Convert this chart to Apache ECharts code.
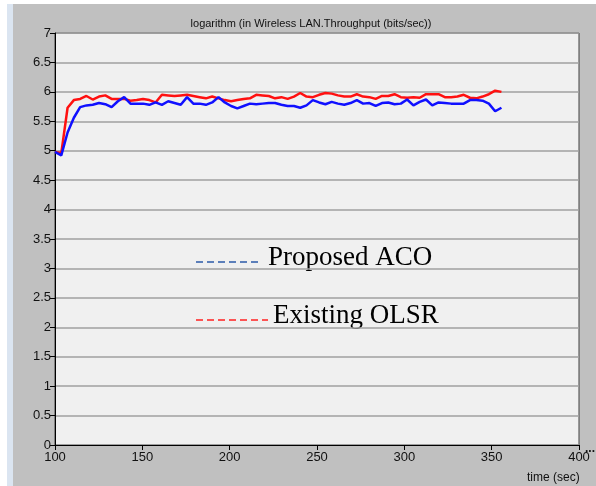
<!DOCTYPE html>
<html><head><meta charset="utf-8">
<script src="https://cdn.jsdelivr.net/npm/echarts@6/dist/echarts.min.js"></script>
<style>
html,body{margin:0;padding:0;background:#fff;}
#wrap{position:absolute;left:0;top:0;width:596px;height:486px;background:#fff;}
#strip{position:absolute;left:7px;top:4px;width:6px;height:482px;background:#dbe5f1;}
#chart{position:absolute;left:13px;top:4px;width:583px;height:482px;background:#c0c0c0;}
</style></head>
<body>
<div id="wrap"><div id="strip"></div><div id="chart"></div></div>
<script>
const times = [100,103.6,107.2,110.8,114.4,118,121.6,125.2,128.8,132.4,136,139.6,143.2,146.8,150.4,154,157.6,161.2,164.8,168.4,172,175.6,179.2,182.8,186.4,190,193.6,197.2,200.8,204.4,208,211.6,215.2,218.8,222.4,226,229.6,233.2,236.8,240.4,244,247.6,251.2,254.8,258.4,262,265.6,269.2,272.8,276.4,280,283.6,287.2,290.8,294.4,298,301.6,305.2,308.8,312.4,316,319.6,323.2,326.8,330.4,334,337.6,341.2,344.8,348.4,352,355.6];
const proposedACO = [4.98,4.92,5.31,5.56,5.74,5.77,5.78,5.81,5.79,5.74,5.84,5.91,5.80,5.80,5.80,5.78,5.82,5.78,5.84,5.81,5.78,5.91,5.80,5.80,5.78,5.82,5.91,5.82,5.76,5.72,5.76,5.80,5.79,5.80,5.81,5.81,5.78,5.76,5.76,5.73,5.77,5.86,5.82,5.79,5.83,5.80,5.78,5.81,5.86,5.80,5.81,5.76,5.81,5.82,5.79,5.80,5.87,5.77,5.83,5.87,5.77,5.82,5.81,5.80,5.80,5.80,5.86,5.86,5.85,5.80,5.67,5.73];
const existingOLSR = [4.98,4.96,5.73,5.86,5.88,5.93,5.87,5.92,5.94,5.88,5.88,5.88,5.85,5.86,5.88,5.86,5.82,5.95,5.94,5.93,5.94,5.95,5.93,5.91,5.89,5.92,5.89,5.86,5.84,5.86,5.88,5.89,5.95,5.94,5.93,5.89,5.91,5.88,5.92,5.98,5.92,5.91,5.95,5.98,5.97,5.94,5.92,5.92,5.96,5.92,5.91,5.88,5.93,5.93,5.96,5.91,5.90,5.91,5.90,5.96,5.96,5.96,5.91,5.91,5.92,5.95,5.90,5.89,5.92,5.96,6.02,6.00];
const seriesNames = ['Proposed ACO','Existing OLSR'];
const titleText = 'logarithm (in Wireless LAN.Throughput (bits/sec))';
const xLabel = 'time (sec)';

const chart = echarts.init(document.getElementById('chart'), null, {renderer:'canvas'});
const font = '"Liberation Sans Narrow","Liberation Sans",Arial,sans-serif';
const GL = 42, GT = 29, GW = 524, GH = 412;
chart.setOption({
  animation:false,
  backgroundColor:'#c0c0c0',
  title:{text:titleText,left:GL+GW/2-11,top:9,textAlign:'center',
    textStyle:{fontFamily:font,fontSize:11,fontWeight:'normal',color:'#111'}},
  grid:{left:GL,top:GT,width:GW,height:GH,show:true,backgroundColor:'#f0f0f0',borderColor:'#404040',borderWidth:1},
  xAxis:{type:'value',min:100,max:400,interval:50,
    axisLine:{show:true,onZero:false,lineStyle:{color:'#000',width:1}},
    axisTick:{show:true,length:5,lineStyle:{color:'#000'}},
    axisLabel:{fontFamily:font,fontSize:13,color:'#111',margin:6},
    splitLine:{show:false}},
  yAxis:{type:'value',min:0,max:7,interval:0.5,
    axisLine:{show:true,lineStyle:{color:'#000',width:1}},
    axisTick:{show:true,length:5,lineStyle:{color:'#000'}},
    axisLabel:{fontFamily:font,fontSize:13,color:'#111',margin:4},
    splitLine:{show:true,lineStyle:{color:'#a0a0a0',width:1.5}}},
  series:[
    {name:seriesNames[0],type:'line',showSymbol:false,data:times.map((t,i)=>[t,proposedACO[i]]),
      lineStyle:{color:'#1010ff',width:2.5},itemStyle:{color:'#1010ff'},z:3},
    {name:seriesNames[1],type:'line',showSymbol:false,data:times.map((t,i)=>[t,existingOLSR[i]]),
      lineStyle:{color:'#ff1010',width:2.5},itemStyle:{color:'#ff1010'},z:2}
  ],
  graphic:[
    {type:'line',shape:{x1:183,y1:258,x2:247,y2:258},style:{stroke:'#2b5aa8',lineWidth:1.6,lineDash:[7,4]}},
    {type:'text',left:255,top:240,style:{text:seriesNames[0],font:'27px "Liberation Serif","Times New Roman",serif',fill:'#000'}},
    {type:'line',shape:{x1:183,y1:316,x2:255,y2:316},style:{stroke:'#ff2020',lineWidth:1.6,lineDash:[7,4]}},
    {type:'text',left:260,top:298,style:{text:seriesNames[1],font:'27px "Liberation Serif","Times New Roman",serif',fill:'#000'}},
    {type:'text',left:514,top:468,style:{text:xLabel,font:'12px '+font,fill:'#111'}},
    {type:'text',left:572,top:439,style:{text:'...',font:'bold 12px '+font,fill:'#111'}}
  ]
});
</script>
</body></html>
